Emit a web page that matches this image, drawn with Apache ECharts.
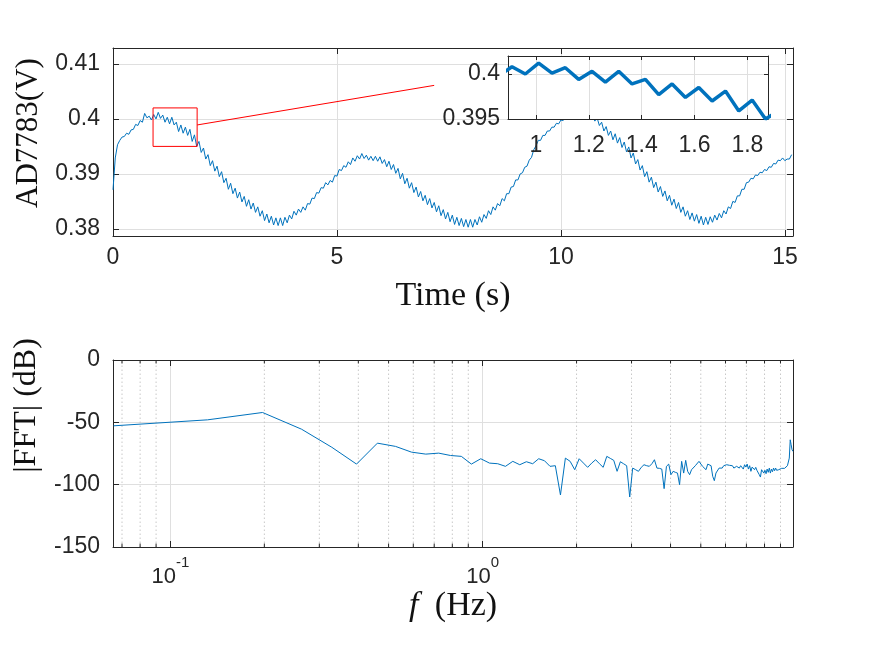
<!DOCTYPE html>
<html>
<head>
<meta charset="utf-8">
<title>AD7783</title>
<script src="https://cdn.jsdelivr.net/npm/echarts@6/dist/echarts.min.js"></script>
<style>
  html, body { margin: 0; padding: 0; background: #fff; }
  #main { width: 875px; height: 657px; }
</style>
</head>
<body>
<div id="main"></div>
<script>
// 采样间隔 (s) (~19.8 Hz)
var sampleStep = 0.0505;
// AD7783 输出 (V)
var ad7783 = [
  0.3871, 0.3929, 0.3953, 0.3961, 0.3967, 0.3968, 0.3974, 0.3972, 0.3980, 0.3981,
  0.3990, 0.3988, 0.3997, 0.3994, 0.4010, 0.4002, 0.4005, 0.3998, 0.4008, 0.4000,
  0.4012, 0.4001, 0.4007, 0.3994, 0.4003, 0.3991, 0.4003, 0.3989, 0.3994, 0.3977,
  0.3989, 0.3974, 0.3985, 0.3970, 0.3981, 0.3959, 0.3971, 0.3950, 0.3959, 0.3939,
  0.3947, 0.3927, 0.3935, 0.3915, 0.3924, 0.3905, 0.3914, 0.3895, 0.3904, 0.3884,
  0.3892, 0.3872, 0.3883, 0.3864, 0.3874, 0.3856, 0.3867, 0.3849, 0.3859, 0.3841,
  0.3853, 0.3836, 0.3847, 0.3830, 0.3840, 0.3823, 0.3833, 0.3815, 0.3827, 0.3811,
  0.3823, 0.3807, 0.3820, 0.3806, 0.3820, 0.3806, 0.3821, 0.3811, 0.3825, 0.3818,
  0.3832, 0.3825, 0.3836, 0.3830, 0.3840, 0.3834, 0.3846, 0.3845, 0.3856, 0.3855,
  0.3866, 0.3865, 0.3875, 0.3874, 0.3884, 0.3880, 0.3888, 0.3885, 0.3897, 0.3896,
  0.3908, 0.3906, 0.3915, 0.3912, 0.3922, 0.3917, 0.3929, 0.3923, 0.3933, 0.3927,
  0.3937, 0.3928, 0.3934, 0.3925, 0.3932, 0.3924, 0.3932, 0.3923, 0.3931, 0.3919,
  0.3926, 0.3913, 0.3923, 0.3908, 0.3917, 0.3901, 0.3910, 0.3891, 0.3901, 0.3882,
  0.3892, 0.3874, 0.3884, 0.3866, 0.3876, 0.3858, 0.3868, 0.3851, 0.3861, 0.3844,
  0.3855, 0.3838, 0.3848, 0.3831, 0.3842, 0.3824, 0.3835, 0.3818, 0.3830, 0.3813,
  0.3825, 0.3808, 0.3821, 0.3806, 0.3819, 0.3804, 0.3817, 0.3803, 0.3817, 0.3803,
  0.3817, 0.3807, 0.3822, 0.3812, 0.3826, 0.3819, 0.3833, 0.3826, 0.3840, 0.3834,
  0.3846, 0.3842, 0.3855, 0.3851, 0.3864, 0.3864, 0.3876, 0.3877, 0.3889, 0.3889,
  0.3900, 0.3902, 0.3912, 0.3914, 0.3925, 0.3930, 0.3944, 0.3951, 0.3961, 0.3961,
  0.3970, 0.3970, 0.3978, 0.3978, 0.3985, 0.3985, 0.3992, 0.3991, 0.3998, 0.3997,
  0.4004, 0.4000, 0.4009, 0.4005, 0.4013, 0.4008, 0.4015, 0.4008, 0.4013, 0.4004,
  0.4010, 0.4000, 0.4006, 0.3996, 0.4002, 0.3988, 0.3994, 0.3978, 0.3986, 0.3970,
  0.3978, 0.3962, 0.3973, 0.3956, 0.3966, 0.3948, 0.3958, 0.3940, 0.3949, 0.3929,
  0.3938, 0.3918, 0.3926, 0.3907, 0.3915, 0.3895, 0.3904, 0.3885, 0.3894, 0.3875,
  0.3885, 0.3867, 0.3877, 0.3859, 0.3869, 0.3851, 0.3861, 0.3843, 0.3854, 0.3837,
  0.3848, 0.3830, 0.3840, 0.3823, 0.3833, 0.3817, 0.3829, 0.3814, 0.3826, 0.3810,
  0.3823, 0.3807, 0.3821, 0.3808, 0.3822, 0.3812, 0.3825, 0.3816, 0.3828, 0.3820,
  0.3833, 0.3827, 0.3840, 0.3837, 0.3850, 0.3848, 0.3860, 0.3860, 0.3872, 0.3872,
  0.3884, 0.3885, 0.3892, 0.3891, 0.3898, 0.3897, 0.3903, 0.3902, 0.3908, 0.3906,
  0.3913, 0.3912, 0.3919, 0.3918, 0.3925, 0.3924, 0.3929, 0.3924, 0.3927, 0.3927,
  0.3935
];

// 频谱: bin spacing (Hz) and |FFT| in dB for bins 1..150
var fftStep = 0.06578;
var fftDb = [
  -52.8, -48.0, -42.1, -55.5, -70.0, -83.5, -66.7, -69.3, -73.9, -75.5,
  -74.7, -76.6, -77.3, -83.5, -79.2, -82.7, -83.2, -85.3, -81.3, -84.0,
  -81.6, -83.2, -79.2, -80.8, -85.3, -84.8, -108.3, -78.7, -81.3, -88.0,
  -79.2, -82.7, -86.1, -82.7, -80.0, -83.2, -86.1, -77.3, -78.9, -80.5,
  -89.3, -81.6, -83.2, -84.8, -109.9, -86.7, -88.0, -89.3, -86.1, -84.0,
  -84.8, -85.3, -83.2, -80.0, -86.7, -86.9, -87.5, -103.2, -85.3, -83.5,
  -92.0, -89.3, -90.1, -90.7, -100.0, -81.3, -90.7, -80.5, -89.3, -92.0,
  -88.0, -86.7, -84.8, -84.0, -81.3, -82.7, -85.3, -86.7, -88.0, -83.5,
  -82.0, -84.8, -93.3, -96.8, -90.7, -89.3, -86.7, -85.3, -86.7, -84.8,
  -83.2, -84.0, -85.3, -84.5, -85.9, -84.8, -86.7, -88.0, -85.3, -84.0,
  -86.7, -84.8, -83.2, -87.5, -84.0, -85.9, -83.5, -87.5, -84.8, -89.3,
  -85.9, -85.3, -88.0, -86.1, -88.5, -86.9, -92.0, -93.9, -88.0, -86.7,
  -90.7, -88.5, -91.2, -87.5, -90.1, -86.7, -90.7, -87.5, -89.6, -86.7,
  -88.8, -86.7, -88.5, -87.5, -88.0, -86.9, -88.0, -86.9, -87.5, -86.7,
  -86.9, -86.4, -85.9, -84.8, -83.2, -78.7, -64.0, -68.0, -72.0, -73.3
];

// 对数轴次网格
var minorFreqs = [0.07, 0.08, 0.09, 0.2, 0.3, 0.4, 0.5, 0.6, 0.7, 0.8, 0.9,
  2, 3, 4, 5, 6, 7, 8, 9];

// 放大区域 & 指示线
var zoomTime = [0.894, 1.878];
var zoomVolt = [0.395, 0.402];
var pointerTime = [1.878, 7.17];
var pointerVolt = [0.3989, 0.4061];

// 轴范围
var timeRange = [0, 15.18];
var voltRange = [0.3787, 0.4129];
var freqRange = [0.0655, 9.87];
var dbRange = [-150, 0];

var axisColor = '#262626';
var gridColor = '#dfdfdf';
var lineBlue = '#0072bd';
var sans = 'Liberation Sans';
var serif = 'Liberation Serif';

var timeData = ad7783.map(function (v, i) { return [i * sampleStep, v]; });
var fftData = fftDb.map(function (v, k) { return [(k + 1) * fftStep, v]; });

function tick(len) {
  return { show: true, inside: true, length: len, lineStyle: { color: axisColor, width: 1 } };
}
function line() {
  return { show: true, onZero: false, lineStyle: { color: axisColor, width: 1 } };
}
function label(margin) {
  return { show: true, margin: margin, fontFamily: sans, fontSize: 23, color: axisColor };
}
function split() {
  return { show: true, lineStyle: { color: gridColor, width: 1 } };
}
function nameStyle(size) {
  return { fontFamily: serif, fontSize: size, color: '#111' };
}
// 上/右镜像轴: 只画框线和刻度
function mirror(base, pos) {
  var a = Object.assign({}, base);
  a.position = pos;
  a.name = '';
  a.axisLabel = { show: false };
  a.splitLine = { show: false };
  return a;
}

var mainX = {
  type: 'value', gridIndex: 0, min: timeRange[0], max: timeRange[1], interval: 5,
  axisLine: line(), axisTick: tick(6),
  axisLabel: Object.assign(label(10), { showMinLabel: true, showMaxLabel: false }),
  splitLine: split(),
  name: 'Time (s)', nameLocation: 'middle', nameGap: 43, nameTextStyle: nameStyle(34)
};
var mainY = {
  type: 'value', gridIndex: 0, min: voltRange[0], max: voltRange[1],
  splitNumber: 3, minInterval: 0.01, maxInterval: 0.01,
  axisLine: line(), axisTick: tick(6),
  axisLabel: Object.assign(label(13), { showMinLabel: false, showMaxLabel: false }),
  splitLine: split(),
  name: 'AD7783(V)', nameLocation: 'middle', nameGap: 64,
  nameTextStyle: Object.assign(nameStyle(31), { padding: [0, 0, 0, 18] })
};
var insetX = {
  type: 'value', gridIndex: 1, min: zoomTime[0], max: zoomTime[1],
  splitNumber: 5, minInterval: 0.2, maxInterval: 0.2, z: 11,
  axisLine: line(), axisTick: tick(4),
  axisLabel: Object.assign(label(15), { showMinLabel: false, showMaxLabel: false }),
  splitLine: split()
};
var insetY = {
  type: 'value', gridIndex: 1, min: zoomVolt[0], max: zoomVolt[1], interval: 0.005, z: 11,
  axisLine: line(), axisTick: tick(4),
  axisLabel: Object.assign(label(8), { showMinLabel: true, showMaxLabel: false }),
  splitLine: split()
};
var fftX = {
  type: 'log', logBase: 10, gridIndex: 2, min: freqRange[0], max: freqRange[1],
  axisLine: line(), axisTick: tick(6),
  axisLabel: {
    show: true, margin: 8, showMinLabel: false, showMaxLabel: false,
    formatter: function (v) {
      var e = Math.round(Math.log(v) / Math.LN10);
      var p = Math.pow(10, e);
      if (Math.abs(v - p) > 1e-6 * p) return '';
      return '{b|10}{s|' + e + '}';
    },
    rich: {
      b: { fontFamily: sans, fontSize: 22, color: axisColor, verticalAlign: 'bottom', lineHeight: 33 },
      s: { fontFamily: sans, fontSize: 15, color: axisColor, verticalAlign: 'top', lineHeight: 33 }
    }
  },
  splitLine: split(),
  name: '{i|f} (Hz)', nameLocation: 'middle', nameGap: 40,
  nameTextStyle: Object.assign(nameStyle(34), {
    rich: { i: { fontFamily: serif, fontSize: 34, fontStyle: 'italic', color: '#111', padding: [0, 8, 0, 0] } }
  })
};
var fftY = {
  type: 'value', gridIndex: 2, min: dbRange[0], max: dbRange[1], interval: 50,
  axisLine: line(), axisTick: tick(6),
  axisLabel: Object.assign(label(13), { showMinLabel: true, showMaxLabel: true }),
  splitLine: split(),
  name: '|FFT| (dB)', nameLocation: 'middle', nameGap: 64,
  nameTextStyle: Object.assign(nameStyle(32), { padding: [0, 0, 0, 96] })
};

var myChart = echarts.init(document.getElementById('main'), null, { renderer: 'canvas' });
myChart.setOption({
  backgroundColor: '#fff',
  animation: false,
  grid: [
    { left: 113, top: 48, width: 680, height: 188, containLabel: false, outerBoundsMode: 'none' },
    { left: 508, top: 56, width: 260, height: 63, containLabel: false, outerBoundsMode: 'none',
      show: true, backgroundColor: '#fff', borderWidth: 0, z: 10 },
    { left: 113, top: 360, width: 680, height: 187, containLabel: false, outerBoundsMode: 'none' }
  ],
  xAxis: [mainX, mirror(mainX, 'top'), insetX, mirror(insetX, 'top'), fftX, mirror(fftX, 'top')],
  yAxis: [mainY, mirror(mainY, 'right'), insetY, mirror(insetY, 'right'), fftY, mirror(fftY, 'right')],
  series: [
    {
      // 原始信号
      type: 'line', xAxisIndex: 0, yAxisIndex: 0, data: timeData,
      symbol: 'none', lineStyle: { color: lineBlue, width: 1 }, z: 3, silent: true
    },
    {
      // 放大框
      type: 'line', xAxisIndex: 0, yAxisIndex: 0, symbol: 'none', silent: true, z: 4,
      data: [[zoomTime[0], zoomVolt[0]], [zoomTime[1], zoomVolt[0]], [zoomTime[1], zoomVolt[1]],
             [zoomTime[0], zoomVolt[1]], [zoomTime[0], zoomVolt[0]]],
      lineStyle: { color: '#ff0000', width: 1 }
    },
    {
      type: 'line', xAxisIndex: 0, yAxisIndex: 0, symbol: 'none', silent: true, z: 4,
      data: [[pointerTime[0], pointerVolt[0]], [pointerTime[1], pointerVolt[1]]],
      lineStyle: { color: '#ff0000', width: 1 }
    },
    {
      // 局部放大
      type: 'line', xAxisIndex: 2, yAxisIndex: 2, data: timeData, clip: true,
      symbol: 'none', lineStyle: { color: lineBlue, width: 3.5 }, z: 12, silent: true
    },
    {
      // 频谱
      type: 'line', xAxisIndex: 4, yAxisIndex: 4, data: fftData,
      symbol: 'none', lineStyle: { color: lineBlue, width: 1 }, z: 3, silent: true
    },
    {
      // 次网格 + 次刻度
      type: 'custom', xAxisIndex: 4, yAxisIndex: 4, silent: true, z: 1,
      data: minorFreqs.map(function (f) { return [f, dbRange[0]]; }),
      encode: { x: 0, y: 1 },
      renderItem: function (params, api) {
        var f = api.value(0);
        var b = api.coord([f, dbRange[0]]);
        var t = api.coord([f, dbRange[1]]);
        return {
          type: 'group',
          children: [
            { type: 'line', shape: { x1: b[0], y1: b[1], x2: t[0], y2: t[1] },
              style: { stroke: '#c8c8c8', lineWidth: 1, lineDash: [1.5, 2.5] } },
            { type: 'line', shape: { x1: b[0], y1: b[1], x2: b[0], y2: b[1] - 3.5 },
              style: { stroke: axisColor, lineWidth: 1 } },
            { type: 'line', shape: { x1: t[0], y1: t[1], x2: t[0], y2: t[1] + 3.5 },
              style: { stroke: axisColor, lineWidth: 1 } }
          ]
        };
      }
    }
  ]
});
</script>
</body>
</html>
